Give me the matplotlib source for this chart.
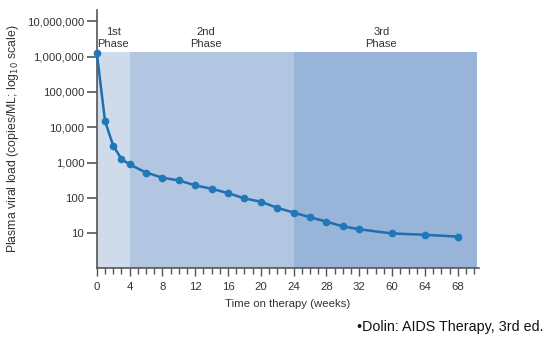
import matplotlib
matplotlib.use("Agg")
import matplotlib.pyplot as plt
import numpy as np
from matplotlib.ticker import FixedLocator, NullFormatter

# Data (x given as axis position; weeks 60/64/68 are placed after 32 on a broken scale)
x_pos = [0, 1, 2, 3, 4, 6, 8, 10, 12, 14, 16, 18, 20, 22, 24, 26, 28, 30, 32, 36, 40, 44]
viral_load = [1300000, 15000, 3000, 1260, 880, 520, 370, 310, 225, 180, 135, 96, 77, 52,
              38, 28, 21, 15.4, 12.8, 9.7, 8.9, 7.9]
x_tick_pos = [0, 4, 8, 12, 16, 20, 24, 28, 32, 36, 40, 44]
x_tick_labels = ["0", "4", "8", "12", "16", "20", "24", "28", "32", "60", "64", "68"]
y_ticks = [10, 100, 1000, 10000, 100000, 1000000, 10000000]
y_tick_labels = ["10", "100", "1,000", "10,000", "100,000", "1,000,000", "10,000,000"]
phase_bounds = [0, 4, 24, 46.4]
phase_labels = ["1st\nPhase", "2nd\nPhase", "3rd\nPhase"]
phase_label_x = [2, 13.3, 34.7]
phase_colors = ["#cfdaeb", "#b2c6e1", "#98b4d8"]

plt.rcParams['font.family'] = ['Liberation Sans', 'DejaVu Sans']

fig = plt.figure(figsize=(5.5, 3.4), dpi=100)
ax = fig.add_axes([0.176, 0.211, 0.695, 0.760])

ax.set_yscale('log')
ax.set_xlim(0, 46.6)
ax.set_ylim(1, 10 ** 7.33)

shade_top = 1.33e6
for (a, b), c in zip(zip(phase_bounds[:-1], phase_bounds[1:]), phase_colors):
    ax.fill_between([a, b], 1, shade_top, color=c, lw=0, zorder=0)

for xp, lab in zip(phase_label_x, phase_labels):
    ax.text(xp, 1.7e6, lab, ha='center', va='bottom', fontsize=8, color='#333333',
            linespacing=1.15)

ax.plot(x_pos, viral_load, color='#1f6fae', lw=1.8, marker='o', ms=4.5,
        markerfacecolor='#1f78b8', markeredgecolor='#1f78b8', zorder=3, clip_on=False)

ax.xaxis.set_major_locator(FixedLocator(x_tick_pos))
ax.set_xticklabels(x_tick_labels)
ax.xaxis.set_minor_locator(FixedLocator([i for i in range(1, 47) if i % 4 != 0]))
ax.yaxis.set_major_locator(FixedLocator(y_ticks))
ax.set_yticklabels(y_tick_labels)
ax.yaxis.set_minor_locator(FixedLocator([]))
ax.yaxis.set_minor_formatter(NullFormatter())

for s in ['top', 'right']:
    ax.spines[s].set_visible(False)
for s in ['left', 'bottom']:
    ax.spines[s].set_color('#555555')
    ax.spines[s].set_linewidth(1.2)

ax.tick_params(axis='y', which='major', length=7, width=1.2, color='#555555',
               labelsize=8.2, labelcolor='#333333', pad=2)
ax.tick_params(axis='x', which='major', length=6, width=1.0, color='#555555',
               labelsize=8.2, labelcolor='#333333', pad=4)
ax.tick_params(axis='x', which='minor', length=4, width=1.0, color='#555555')

ax.set_xlabel("Time on therapy (weeks)", fontsize=8.2, color='#333333', labelpad=5)
ax.set_ylabel("Plasma viral load (copies/ML; log$_{10}$ scale)", fontsize=8.8,
              color='#333333', labelpad=4)

fig.text(0.988, 0.018, "•Dolin: AIDS Therapy, 3rd ed.", ha='right', va='bottom',
         fontsize=10.3, color='#111111')

fig.savefig("out.png", dpi=100)
